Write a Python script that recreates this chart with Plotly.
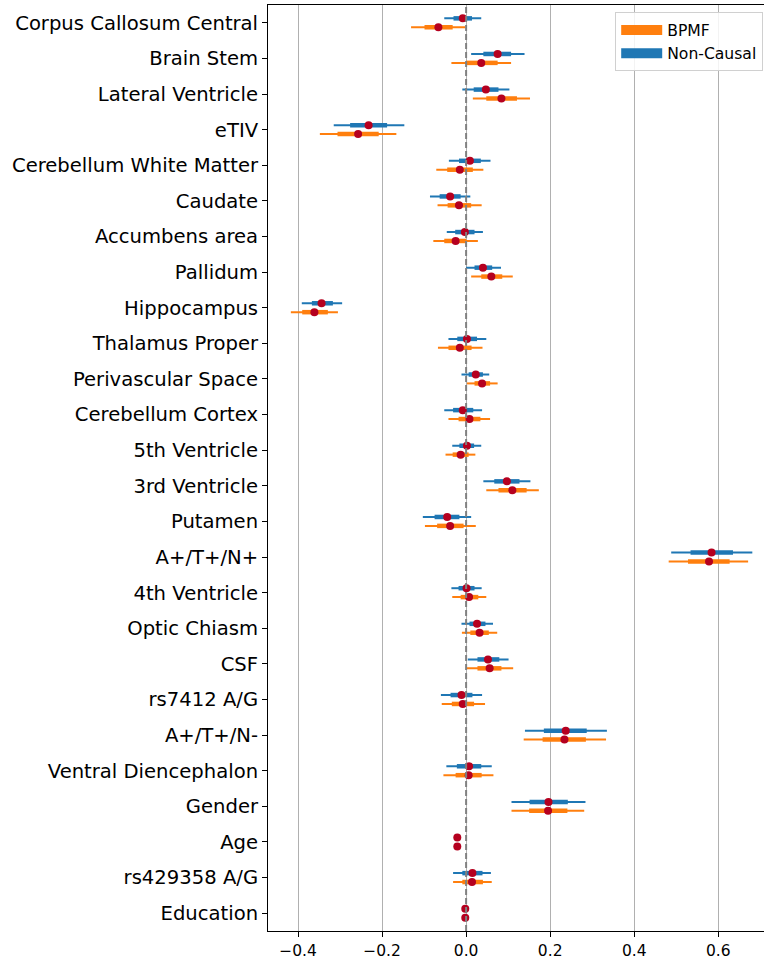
import plotly.graph_objects as go

categories = [
    "Corpus Callosum Central", "Brain Stem", "Lateral Ventricle", "eTIV",
    "Cerebellum White Matter", "Caudate", "Accumbens area", "Pallidum",
    "Hippocampus", "Thalamus Proper", "Perivascular Space", "Cerebellum Cortex",
    "5th Ventricle", "3rd Ventricle", "Putamen", "A+/T+/N+", "4th Ventricle",
    "Optic Chiasm", "CSF", "rs7412 A/G", "A+/T+/N-", "Ventral Diencephalon",
    "Gender", "Age", "rs429358 A/G", "Education",
]

# Non-Causal (blue)
nc_mean = [-0.008, 0.075, 0.047, -0.232, 0.009, -0.038, -0.003, 0.040, -0.344, 0.002,
           0.023, -0.008, 0.002, 0.097, -0.045, 0.584, 0.001, 0.026, 0.052, -0.011,
           0.237, 0.007, 0.196, -0.021, 0.015, -0.002]
nc_lo_wide = [-0.052, 0.012, -0.009, -0.315, -0.041, -0.086, -0.046, 0.000, -0.391, -0.042,
              -0.011, -0.052, -0.033, 0.041, -0.103, 0.488, -0.035, -0.011, 0.004, -0.060,
              0.140, -0.047, 0.108, -0.023, -0.031, -0.003]
nc_hi_wide = [0.036, 0.139, 0.103, -0.147, 0.058, 0.010, 0.040, 0.083, -0.295, 0.048,
              0.055, 0.038, 0.036, 0.153, 0.012, 0.681, 0.037, 0.064, 0.101, 0.038,
              0.335, 0.061, 0.284, -0.019, 0.059, -0.001]
nc_lo_narrow = [-0.030, 0.041, 0.018, -0.276, -0.017, -0.063, -0.026, 0.020, -0.367, -0.021,
                0.006, -0.031, -0.016, 0.067, -0.075, 0.534, -0.018, 0.008, 0.027, -0.037,
                0.185, -0.022, 0.151, -0.022, -0.009, -0.0025]
nc_hi_narrow = [0.014, 0.107, 0.077, -0.188, 0.035, -0.013, 0.020, 0.062, -0.317, 0.026,
                0.040, 0.017, 0.019, 0.127, -0.016, 0.635, 0.020, 0.046, 0.079, 0.015,
                0.287, 0.036, 0.242, -0.020, 0.039, -0.0015]

# BPMF (orange)
bp_mean = [-0.066, 0.036, 0.084, -0.257, -0.015, -0.017, -0.025, 0.060, -0.361, -0.015,
           0.038, 0.008, -0.013, 0.110, -0.038, 0.578, 0.007, 0.032, 0.056, -0.008,
           0.234, 0.006, 0.195, -0.021, 0.014, -0.002]
bp_lo_wide = [-0.131, -0.035, 0.016, -0.348, -0.071, -0.068, -0.078, 0.012, -0.417, -0.067,
              0.002, -0.042, -0.049, 0.048, -0.098, 0.482, -0.033, -0.010, 0.002, -0.058,
              0.137, -0.054, 0.108, -0.023, -0.031, -0.003]
bp_hi_wide = [-0.002, 0.107, 0.152, -0.166, 0.041, 0.037, 0.028, 0.111, -0.305, 0.039,
              0.075, 0.057, 0.022, 0.173, 0.023, 0.671, 0.048, 0.074, 0.112, 0.045,
              0.333, 0.065, 0.281, -0.019, 0.061, -0.001]
bp_lo_narrow = [-0.099, 0.000, 0.048, -0.306, -0.045, -0.044, -0.052, 0.036, -0.390, -0.042,
                0.020, -0.018, -0.032, 0.077, -0.069, 0.528, -0.013, 0.010, 0.027, -0.034,
                0.182, -0.025, 0.150, -0.022, -0.009, -0.0025]
bp_hi_narrow = [-0.032, 0.075, 0.121, -0.208, 0.016, 0.012, 0.000, 0.086, -0.329, 0.013,
                0.057, 0.034, 0.006, 0.144, -0.006, 0.627, 0.029, 0.054, 0.084, 0.019,
                0.285, 0.037, 0.241, -0.020, 0.040, -0.0015]

x_ticks = [-0.4, -0.2, 0.0, 0.2, 0.4, 0.6]

BLUE = "#1f77b4"
ORANGE = "#ff7f0e"
DOT = "#b5001f"
FONT = "DejaVu Sans"

ypos = list(range(len(categories)))


def segs(lo, hi, offset):
    xs, ys = [], []
    for i, (a, b) in enumerate(zip(lo, hi)):
        xs += [a, b, None]
        ys += [ypos[i] + offset, ypos[i] + offset, None]
    return xs, ys


fig = go.Figure()

series = [
    ("Non-Causal", BLUE, -0.125, nc_mean, nc_lo_wide, nc_hi_wide, nc_lo_narrow, nc_hi_narrow),
    ("BPMF", ORANGE, 0.125, bp_mean, bp_lo_wide, bp_hi_wide, bp_lo_narrow, bp_hi_narrow),
]

for name, col, off, mean, lw, hw, ln, hn in series:
    xs, ys = segs(lw, hw, off)
    fig.add_trace(go.Scatter(x=xs, y=ys, mode="lines", line=dict(color=col, width=2),
                             showlegend=False, hoverinfo="skip"))
    xs, ys = segs(ln, hn, off)
    fig.add_trace(go.Scatter(x=xs, y=ys, mode="lines", line=dict(color=col, width=4.5),
                             showlegend=False, hoverinfo="skip"))

for name, col, off, mean, lw, hw, ln, hn in series:
    fig.add_trace(go.Scatter(x=mean, y=[p + off for p in ypos], mode="markers",
                             marker=dict(color=DOT, size=8, line=dict(width=0)),
                             showlegend=False, name=name))

# legend entries (patches)
for name, col in [("BPMF", ORANGE), ("Non-Causal", BLUE)]:
    fig.add_trace(go.Scatter(x=[None], y=[None], mode="lines", name=name,
                             line=dict(color=col, width=11), showlegend=True))

fig.add_vline(x=0, line=dict(color="#808080", width=2, dash="6px,3px"), layer="above")

fig.update_layout(
    width=764, height=959,
    margin=dict(l=268, r=0, t=5, b=28),
    plot_bgcolor="white", paper_bgcolor="white",
    font=dict(family=FONT, color="black"),
    showlegend=True,
    legend=dict(x=0.70, y=0.992, xanchor="left", yanchor="top",
                bgcolor="rgba(255,255,255,0.85)", bordercolor="#d0d0d0", borderwidth=1,
                font=dict(size=15.6, family=FONT), itemwidth=41,
                tracegroupgap=0),
)

fig.update_xaxes(
    range=[-0.4714, 0.7088], tickvals=x_ticks, tickformat=".1f",
    showgrid=True, gridcolor="#b0b0b0", gridwidth=1, zeroline=False,
    showline=True, linecolor="black", linewidth=1, mirror=True,
    ticks="outside", ticklen=5, tickcolor="black", tickfont=dict(size=15.5, family=FONT),
)
fig.update_yaxes(
    range=[len(categories) - 0.5, -0.5], tickvals=ypos, ticktext=categories,
    showgrid=False, zeroline=False,
    showline=True, linecolor="black", linewidth=1, mirror=False,
    ticks="outside", ticklen=5, tickcolor="black", tickfont=dict(size=19.6, family=FONT),
)

fig.write_html(
    "out.html",
    config={"displayModeBar": False},
    post_script="document.body.style.margin='0';document.body.style.overflow='hidden';",
)
